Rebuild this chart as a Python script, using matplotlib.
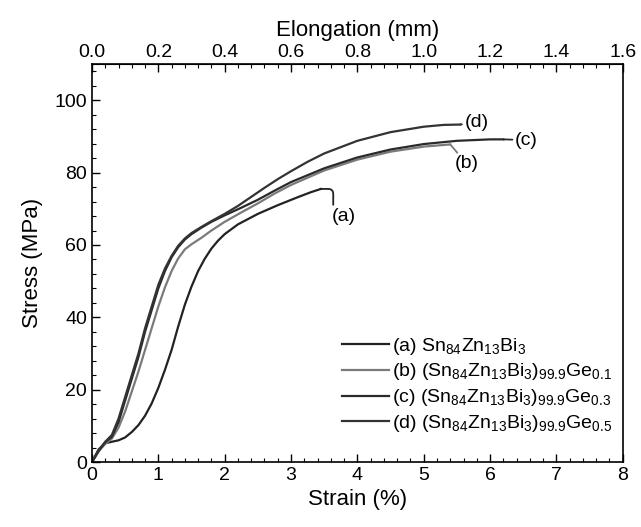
import numpy as np
import matplotlib.pyplot as plt
from matplotlib.ticker import MultipleLocator, FormatStrFormatter

plt.rcParams['font.family'] = ['Liberation Sans', 'DejaVu Sans']
plt.rcParams['mathtext.fontset'] = 'custom'
plt.rcParams['mathtext.rm'] = 'Liberation Sans'

# strain (%) / stress (MPa)
strain_a = [0, 0.1, 0.2, 0.3, 0.4, 0.5, 0.6, 0.7, 0.8, 0.9, 1.0, 1.1, 1.2, 1.3, 1.4,
            1.5, 1.6, 1.7, 1.8, 1.9, 2.0, 2.2, 2.5, 2.8, 3.1, 3.3, 3.45]
stress_a = [0, 3.5, 5.2, 5.6, 6.0, 6.8, 8.3, 10.2, 12.8, 16.2, 20.5, 25.5, 31, 37.5, 43.5,
            48.5, 52.8, 56.2, 59.0, 61.2, 63, 65.7, 68.6, 71, 73.2, 74.6, 75.5]

strain_b = [0, 0.1, 0.2, 0.3, 0.4, 0.5, 0.6, 0.7, 0.8, 0.9, 1.0, 1.1, 1.2, 1.3, 1.4,
            1.5, 1.65, 1.8, 2.0, 2.25, 2.5, 2.75, 3.0, 3.5, 4.0, 4.5, 5.0, 5.4]
stress_b = [0, 3.0, 5.0, 6.5, 9.5, 14, 19.5, 25, 31, 37, 43, 48.3, 52.8, 56.3, 58.8,
            60.2, 62, 64, 66.4, 69, 71.5, 74.2, 76.6, 80.6, 83.6, 85.8, 87.2, 87.8]

strain_c = [0, 0.1, 0.2, 0.3, 0.4, 0.5, 0.6, 0.7, 0.8, 0.9, 1.0, 1.1, 1.2, 1.3, 1.4,
            1.5, 1.65, 1.8, 2.0, 2.25, 2.5, 2.75, 3.0, 3.5, 4.0, 4.5, 5.0, 5.5, 6.0, 6.2]
stress_c = [0, 3.0, 5.5, 7.0, 11, 17, 23, 29, 36, 42, 48, 52.8, 56.6, 59.4, 61.5,
            63, 64.8, 66.4, 68.2, 70.3, 72.5, 75, 77.4, 81.2, 84.2, 86.4, 87.9, 88.8, 89.2, 89.2]

strain_d = [0, 0.1, 0.2, 0.3, 0.4, 0.5, 0.6, 0.7, 0.8, 0.9, 1.0, 1.1, 1.2, 1.3, 1.4,
            1.5, 1.65, 1.8, 2.0, 2.2, 2.4, 2.6, 2.8, 3.0, 3.25, 3.5, 4.0, 4.5, 5.0, 5.3, 5.55]
stress_d = [0, 3.2, 5.6, 7.5, 12, 18, 24, 30, 37, 43, 49, 53.5, 57, 59.8, 61.8,
            63.3, 65, 66.6, 68.6, 70.8, 73.3, 75.8, 78.2, 80.4, 83, 85.3, 88.8, 91.2, 92.7, 93.2, 93.3]

labels = [r'(a) Sn$_\mathregular{84}$Zn$_\mathregular{13}$Bi$_\mathregular{3}$',
          r'(b) (Sn$_\mathregular{84}$Zn$_\mathregular{13}$Bi$_\mathregular{3}$)$_\mathregular{99.9}$Ge$_\mathregular{0.1}$',
          r'(c) (Sn$_\mathregular{84}$Zn$_\mathregular{13}$Bi$_\mathregular{3}$)$_\mathregular{99.9}$Ge$_\mathregular{0.3}$',
          r'(d) (Sn$_\mathregular{84}$Zn$_\mathregular{13}$Bi$_\mathregular{3}$)$_\mathregular{99.9}$Ge$_\mathregular{0.5}$']
tags = ['(a)', '(b)', '(c)', '(d)']
tag_pos = [(3.8, 68), (5.65, 82.4), (6.55, 89), (5.8, 94)]
tag_conn = ['angle,angleA=90,angleB=0,rad=5', 'arc3,rad=0', 'arc3,rad=0', 'arc3,rad=0']
tag_rel = [(0.05, 0.85), (0.5, 0.5), (0.5, 0.5), (0.5, 0.5)]
tag_shrink = [0, 8, 8, 8]
colors = ['#222222', '#7a7a7a', '#2a2a2a', '#333333']

gauge = 0.2  # mm per % strain

fig = plt.figure(figsize=(6.41, 5.27), dpi=100)
ax = fig.add_axes([0.1435, 0.1233, 0.828, 0.755])

curves = [(strain_a, stress_a), (strain_b, stress_b), (strain_c, stress_c), (strain_d, stress_d)]
for (x, y), lab, col, tag, tp, cs, rp, sh in zip(curves, labels, colors, tags, tag_pos,
                                                 tag_conn, tag_rel, tag_shrink):
    ax.plot(x, y, color=col, lw=1.6, label=lab)
    ax.annotate(tag, xy=(x[-1], y[-1]), xytext=tp, fontsize=14, ha='center', va='center',
                arrowprops=dict(arrowstyle='-', color=col, lw=1.3, shrinkA=sh, shrinkB=0,
                                relpos=rp, connectionstyle=cs))

ax.set_xlim(0, 8)
ax.set_ylim(0, 110)
ax.xaxis.set_major_locator(MultipleLocator(1))
ax.xaxis.set_minor_locator(MultipleLocator(0.2))
ax.yaxis.set_major_locator(MultipleLocator(20))
ax.yaxis.set_minor_locator(MultipleLocator(4))
ax.tick_params(which='both', direction='in', top=False, right=False, labelsize=14)
ax.tick_params(which='major', length=6, width=1)
ax.tick_params(which='minor', length=3, width=0.8)
ax.set_xlabel('Strain (%)', fontsize=16, labelpad=4)
ax.set_ylabel('Stress (MPa)', fontsize=16, labelpad=8)

top = ax.secondary_xaxis('top', functions=(lambda s: s * gauge, lambda e: e / gauge))
top.xaxis.set_major_locator(MultipleLocator(0.2))
top.xaxis.set_minor_locator(MultipleLocator(0.04))
top.xaxis.set_major_formatter(FormatStrFormatter('%.1f'))
top.tick_params(which='both', direction='in', labelsize=14, pad=2)
top.tick_params(which='major', length=6, width=1)
top.tick_params(which='minor', length=3, width=0.8)
top.set_xlabel('Elongation (mm)', fontsize=16, labelpad=6)

for s in ax.spines.values():
    s.set_linewidth(1.2)

ax.legend(loc='lower left', bbox_to_anchor=(0.472, 0.07), frameon=False, fontsize=14,
          handlelength=2.4, handletextpad=0.15, labelspacing=0.25, borderpad=0,
          borderaxespad=0)

fig.savefig('out.png', dpi=100)
